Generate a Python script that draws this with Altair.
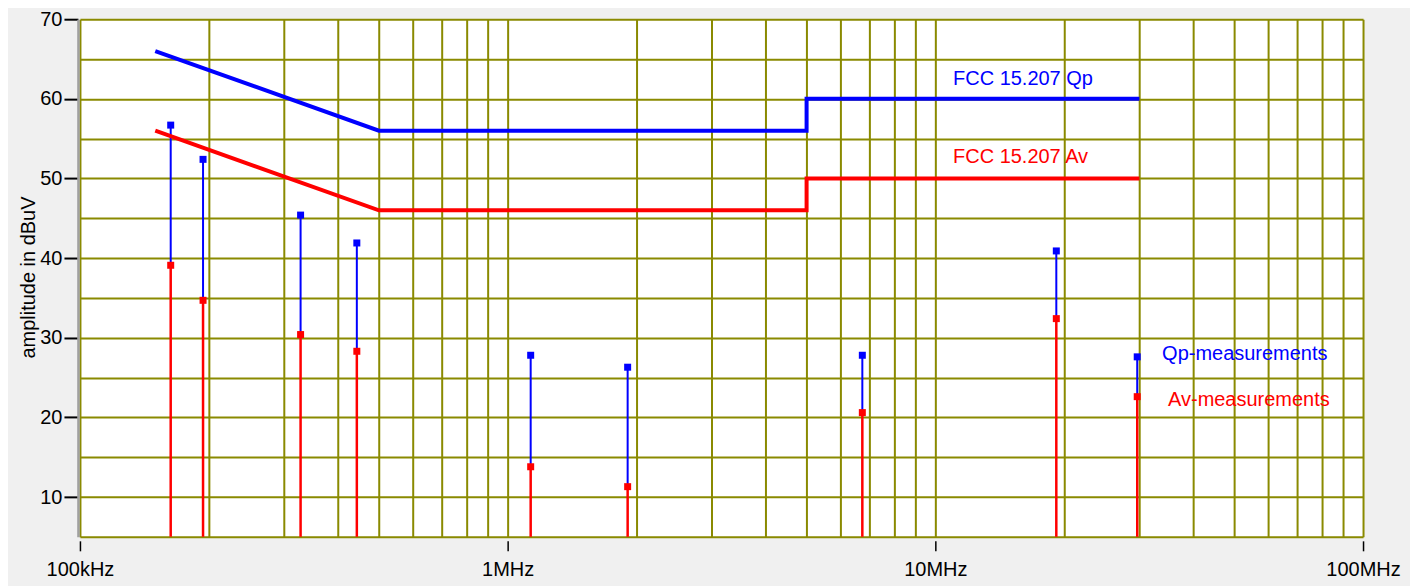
import altair as alt
import pandas as pd

# ---------------- data ----------------
freq_mhz = [0.163, 0.194, 0.328, 0.444, 1.132, 1.908, 6.75, 19.18, 29.65]
qp_meas = [56.7, 52.4, 45.4, 41.9, 27.8, 26.3, 27.8, 40.9, 27.6]
av_meas = [39.1, 34.7, 30.4, 28.3, 13.8, 11.3, 20.6, 32.4, 22.6]

limit_freq_mhz = [0.15, 0.5, 5.0, 5.0, 30.0]
limit_qp = [66, 56, 56, 60, 60]
limit_av = [56, 46, 46, 50, 50]

label_text = ["FCC 15.207 Qp", "FCC 15.207 Av", "Qp-measurements", "Av-measurements"]
label_freq_mhz = [11.0, 11.0, 33.9, 35.0]
label_val = [62.5, 52.7, 28.0, 22.2]
label_series = ["Qp", "Av", "Qp", "Av"]

y_min, y_max = 5, 70
y_grid = [5, 10, 15, 20, 25, 30, 35, 40, 45, 50, 55, 60, 65, 70]
x_decades = [0.1, 1.0, 10.0, 100.0]
x_decade_labels = ["100kHz", "1MHz", "10MHz", "100MHz"]
mantissas = [1, 2, 3, 4, 5, 6, 7, 8, 9]

BLUE = "#0000ff"
RED = "#ff0000"
GRID = "#8a8a00"
FONT = "Liberation Sans"

x_grid = [m * d for d in x_decades[:-1] for m in mantissas] + [x_decades[-1]]

meas = pd.DataFrame({"f": freq_mhz, "qp": qp_meas, "av": av_meas,
                     "floor": [y_min] * len(freq_mhz)})
n = len(limit_freq_mhz)
limits = pd.DataFrame({
    "f": limit_freq_mhz * 2,
    "v": limit_qp + limit_av,
    "s": ["Qp"] * n + ["Av"] * n,
    "o": list(range(n)) * 2,
})
labels = pd.DataFrame({"f": label_freq_mhz, "v": label_val,
                       "t": label_text, "s": label_series})

# ---------------- scales / axes ----------------
label_expr = "".join(
    f"abs(datum.value - {v}) < {v * 1e-6} ? '{t}' : "
    for v, t in zip(x_decades, x_decade_labels)
) + "''"

xscale = alt.Scale(type="log", domain=[x_decades[0], x_decades[-1]], nice=False)
xaxis = alt.Axis(
    values=x_grid, labelExpr=label_expr, title=None, grid=True,
    gridColor=GRID, gridWidth=2, domain=False, offset=4,
    tickSize=10, tickWidth=1.5, tickColor="black",
    tickOpacity={"condition": {"test": "abs(log(datum.value)/LN10 - round(log(datum.value)/LN10)) < 1e-6",
                               "value": 1}, "value": 0},
    labelFontSize=20, labelFont=FONT, labelColor="black", labelPadding=9,
    labelFlush=False, labelOverlap=False,
)
yscale = alt.Scale(domain=[y_min, y_max], nice=False, zero=False)
yaxis = alt.Axis(
    values=y_grid, title="amplitude in dBuV", grid=True,
    gridColor=GRID, gridWidth=2, domain=True, domainColor="#a0a0a0",
    domainWidth=2.5, offset=2, tickSize=14, tickWidth=2, tickColor="black",
    tickOpacity={"condition": {"test": "datum.value % 10 == 0", "value": 1}, "value": 0},
    labelExpr="datum.value % 10 == 0 ? datum.label : ''",
    labelFontSize=20, labelFont=FONT, labelColor="black", labelPadding=2,
    titleFontSize=20, titleFont=FONT, titleFontWeight="normal", titleColor="black",
    titleAngle=270, titleX=-49, titleY=258, titleAlign="center", titleBaseline="middle",
)

color_scale = alt.Scale(domain=["Qp", "Av"], range=[BLUE, RED])


def X():
    return alt.X("f:Q", scale=xscale, axis=xaxis)


def Y(field):
    return alt.Y(f"{field}:Q", scale=yscale, axis=yaxis)


base = alt.Chart(meas)

red_stem = base.mark_rule(color=RED, strokeWidth=2.5).encode(
    x=X(), y=Y("floor"), y2="av:Q")
blue_stem = base.mark_rule(color=BLUE, strokeWidth=2).encode(
    x=X(), y=Y("av"), y2="qp:Q")
qp_pts = base.mark_point(shape="square", filled=True, size=49, color=BLUE,
                         opacity=1).encode(x=X(), y=Y("qp"))
av_pts = base.mark_point(shape="square", filled=True, size=49, color=RED,
                         opacity=1).encode(x=X(), y=Y("av"))

limit_lines = alt.Chart(limits).mark_line(strokeWidth=4, strokeCap="butt").encode(
    x=X(), y=Y("v"),
    color=alt.Color("s:N", scale=color_scale, legend=None),
    detail="s:N",
    order="o:Q",
)

texts = alt.Chart(labels).mark_text(
    align="left", baseline="middle", fontSize=20, font=FONT
).encode(
    x=X(), y=Y("v"), text="t:N",
    color=alt.Color("s:N", scale=color_scale, legend=None),
)

chart = alt.layer(
    red_stem, blue_stem, limit_lines, qp_pts, av_pts, texts
).properties(
    width=1284, height=518,
    autosize=alt.AutoSizeParams(type="none"),
    padding={"left": 72, "top": 11, "right": 47, "bottom": 49},
    background="#f0f0f0",
).configure_view(
    fill="white", strokeWidth=0,
)

chart.save("out.html", embed_options={"renderer": "svg", "actions": False})
